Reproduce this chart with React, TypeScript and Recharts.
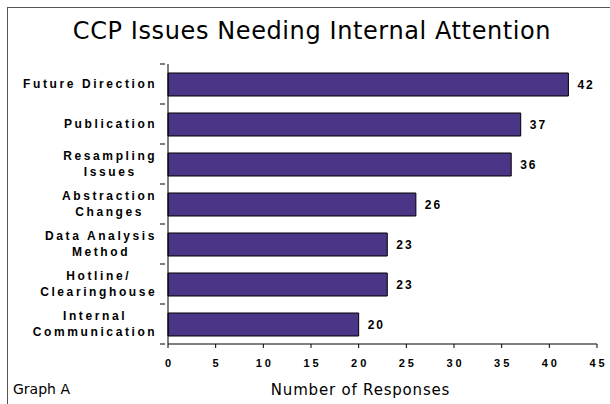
import React from "react";
import { BarChart, Bar, XAxis, YAxis, LabelList } from "recharts";

const categories = [
  "Future Direction",
  "Publication",
  "Resampling\nIssues",
  "Abstraction\nChanges",
  "Data Analysis\nMethod",
  "Hotline/\nClearinghouse",
  "Internal\nCommunication",
];
const responses = [42, 37, 36, 26, 23, 23, 20];
const xTicks = [0, 5, 10, 15, 20, 25, 30, 35, 40, 45];

const data = categories.map((c, i) => ({ category: c, value: responses[i] }));

const LABEL_SIZE = 12;
const LABEL_FONT = `bold ${LABEL_SIZE}px 'Liberation Sans', Arial, sans-serif`;
const LETTER = 2.6;

let ctx: CanvasRenderingContext2D | null = null;
function measure(s: string): number {
  if (!ctx) {
    const c = document.createElement("canvas");
    ctx = c.getContext("2d");
  }
  if (!ctx) return s.length * 8;
  ctx.font = LABEL_FONT;
  return ctx.measureText(s).width + LETTER * s.length;
}

const BAND = 40;

const YTick = (props: any) => {
  const { x, y, payload, index } = props;
  const lines: string[] = String(payload.value).split("\n");
  const maxW = Math.max(...lines.map(measure));
  const right = x - 4;
  const cx = right - maxW / 2;
  const lh = 16;
  const startY = y - ((lines.length - 1) * lh) / 2;
  const axisX = x + 5;
  return (
    <g>
      <line x1={axisX - 5} x2={axisX} y1={y - BAND / 2} y2={y - BAND / 2} stroke="#000" />
      {index === categories.length - 1 && (
        <line x1={axisX - 5} x2={axisX} y1={y + BAND / 2} y2={y + BAND / 2} stroke="#000" />
      )}
      {lines.map((l, i) => (
        <text
          key={i}
          x={cx + LETTER / 2}
          y={startY + i * lh}
          dy="0.35em"
          textAnchor="middle"
          fontFamily="'Liberation Sans', Arial, sans-serif"
          fontWeight="bold"
          fontSize={LABEL_SIZE}
          letterSpacing={LETTER}
          fill="#000"
        >
          {l}
        </text>
      ))}
    </g>
  );
};

const XTick = (props: any) => {
  const { x, y, payload } = props;
  return (
    <text
      x={x + 1.5}
      y={y + 17}
      textAnchor="middle"
      fontFamily="'Liberation Sans', Arial, sans-serif"
      fontWeight="bold"
      fontSize={11}
      letterSpacing={3}
      fill="#000"
    >
      {payload.value}
    </text>
  );
};

export default function App() {
  return (
    <div
      style={{
        position: "absolute",
        left: 0,
        top: 0,
        width: 610,
        height: 404,
        background: "#fff",
        overflow: "hidden",
      }}
    >
      <div
        style={{
          position: "absolute",
          left: 7,
          top: 7,
          width: 610,
          height: 404,
          borderLeft: "1px solid #555",
          borderTop: "1px solid #555",
        }}
      />
      <div
        style={{
          position: "absolute",
          left: 7,
          top: 16,
          width: 610,
          textAlign: "center",
          fontFamily: "'DejaVu Sans', sans-serif",
          fontSize: 24,
          letterSpacing: 0.6,
          color: "#000",
          lineHeight: "30px",
        }}
      >
        CCP Issues Needing Internal Attention
      </div>
      <div
        style={{
          position: "absolute",
          left: 13,
          top: 380,
          fontFamily: "'DejaVu Sans', sans-serif",
          fontSize: 14,
          color: "#000",
          lineHeight: "18px",
        }}
      >
        Graph A
      </div>
      <div style={{ position: "absolute", left: 0, top: 0 }}>
        <BarChart
          width={610}
          height={404}
          data={data}
          layout="vertical"
          margin={{ top: 64, right: 13, bottom: 30, left: 0 }}
          barSize={23}
        >
          <XAxis
            type="number"
            domain={[0, 45]}
            ticks={xTicks}
            interval={0}
            height={30}
            tick={<XTick />}
            tickSize={4}
            axisLine={{ stroke: "#000" }}
            tickLine={{ stroke: "#000" }}
            label={{
              value: "Number of Responses",
              position: "insideBottom",
              offset: -21,
              fontFamily: "'DejaVu Sans', sans-serif",
              fontSize: 15,
              letterSpacing: 0.8,
              fill: "#000",
              dx: -22,
            }}
          />
          <YAxis
            type="category"
            dataKey="category"
            width={168}
            interval={0}
            tick={<YTick />}
            tickLine={false}
            axisLine={{ stroke: "#000" }}
          />
          <Bar
            dataKey="value"
            fill="#4B3587"
            stroke="#000"
            strokeWidth={1}
            isAnimationActive={false}
          >
            <LabelList
              dataKey="value"
              position="right"
              offset={9}
              fill="#000"
              fontFamily="'Liberation Sans', Arial, sans-serif"
              fontWeight="bold"
              fontSize={12}
              letterSpacing={2}
            />
          </Bar>
        </BarChart>
      </div>
    </div>
  );
}
